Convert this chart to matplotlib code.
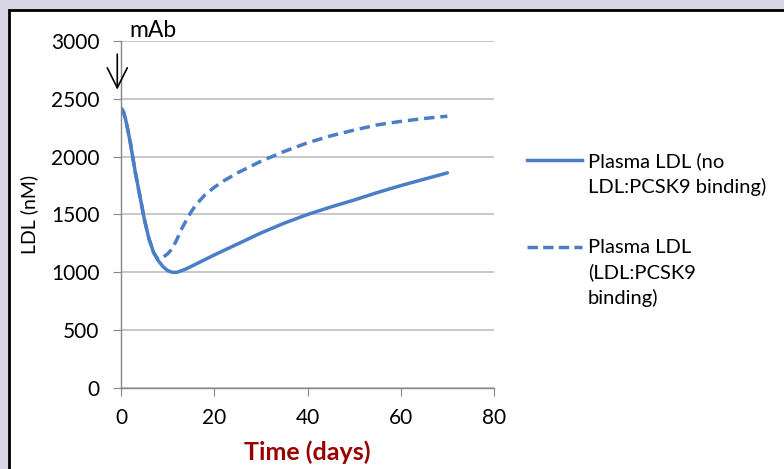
import matplotlib
matplotlib.use("Agg")
import matplotlib.pyplot as plt
from matplotlib.lines import Line2D
from matplotlib.patches import Rectangle

plt.rcParams['font.family'] = ['Lato', 'DejaVu Sans']

# время (сутки) и LDL (нМ)
t_no_bind = [0, 0.5, 1, 1.5, 2, 2.5, 3, 4, 5, 6, 7, 8, 9, 10, 11, 12, 14, 16, 18, 20,
             25, 30, 35, 40, 45, 50, 55, 60, 65, 70]
ldl_no_bind = [2420, 2390, 2320, 2225, 2120, 2000, 1880, 1670, 1460, 1290, 1170, 1100,
               1050, 1015, 1000, 1000, 1030, 1070, 1110, 1150,
               1245, 1340, 1425, 1500, 1565, 1625, 1690, 1750, 1805, 1860]

t_bind = [0, 0.5, 1, 1.5, 2, 2.5, 3, 4, 5, 6, 7, 8, 9, 10, 11, 12, 13, 14, 15, 16, 18,
          20, 22, 25, 30, 35, 40, 45, 50, 55, 60, 65, 70]
ldl_bind = [2420, 2390, 2320, 2225, 2120, 2000, 1880, 1670, 1460, 1290, 1170, 1110,
            1130, 1160, 1205, 1285, 1375, 1450, 1520, 1580, 1670,
            1735, 1790, 1860, 1960, 2045, 2120, 2180, 2230, 2275, 2305, 2330, 2350]

labels = ["Plasma LDL (no\nLDL:PCSK9 binding)", "Plasma LDL\n(LDL:PCSK9\nbinding)"]
color = '#4A7EC6'

W, H = 784, 469
fig = plt.figure(figsize=(7.84, 4.69), dpi=100)
fig.patch.set_facecolor('#D9D5E5')
fig.add_artist(Rectangle((8.5 / W, -0.1), 1.2, 1 - 10 / H + 0.1,
                         transform=fig.transFigure, facecolor='white',
                         edgecolor='black', linewidth=2, zorder=-10))

ax = fig.add_axes([121 / W, 1 - 388 / H, (494 - 121) / W, (388 - 41) / H])
ax.set_facecolor('none')

ax.plot(t_bind, ldl_bind, color=color, lw=2.5, dashes=(3, 1.7), dash_capstyle='butt')
ax.plot(t_no_bind, ldl_no_bind, color=color, lw=2.5, solid_capstyle='round')

ax.set_xlim(0, 80)
ax.set_ylim(0, 3000)
ax.set_xticks(range(0, 81, 20))
ax.set_yticks(range(0, 3001, 500))
ax.yaxis.grid(True, color='#BFBFBF', lw=1.2)
ax.set_axisbelow(True)
for s in ['top', 'right']:
    ax.spines[s].set_visible(False)
for s in ['left', 'bottom']:
    ax.spines[s].set_color('#868686')
    ax.spines[s].set_linewidth(1)
ax.tick_params(axis='both', direction='out', length=5.5, color='#868686',
               labelsize=15)
ax.tick_params(axis='x', pad=9)
ax.tick_params(axis='y', pad=10)

ax.set_ylabel("LDL (nM)", fontsize=14, labelpad=9)
ax.set_xlabel("Time (days)", fontsize=18, fontweight='bold', color='#990000', labelpad=9)

# стрелка mAb
ax.annotate("", xy=(-0.8, 2555), xytext=(-0.8, 2910),
            arrowprops=dict(arrowstyle='->,head_length=0.9,head_width=0.45',
                            color='black', lw=1.2, mutation_scale=16),
            annotation_clip=False)
ax.text(1.9, 3095, "mAb", fontsize=16.5, va='center', ha='left', clip_on=False)

# легенда
fig.add_artist(Line2D([527 / W, 582 / W], [1 - 160 / H] * 2, transform=fig.transFigure,
                      color=color, lw=2.5))
fig.add_artist(Line2D([527 / W, 582 / W], [1 - 247 / H] * 2, transform=fig.transFigure,
                      color=color, lw=2.5, dashes=(3, 1.5)))
fig.text(588 / W, 1 - 152 / H, labels[0], fontsize=14.5, va='top',
         linespacing=1.5, transform=fig.transFigure)
fig.text(588 / W, 1 - 239 / H, labels[1], fontsize=14.5, va='top',
         linespacing=1.5, transform=fig.transFigure)

fig.savefig("out.png", dpi=100, facecolor=fig.get_facecolor())
